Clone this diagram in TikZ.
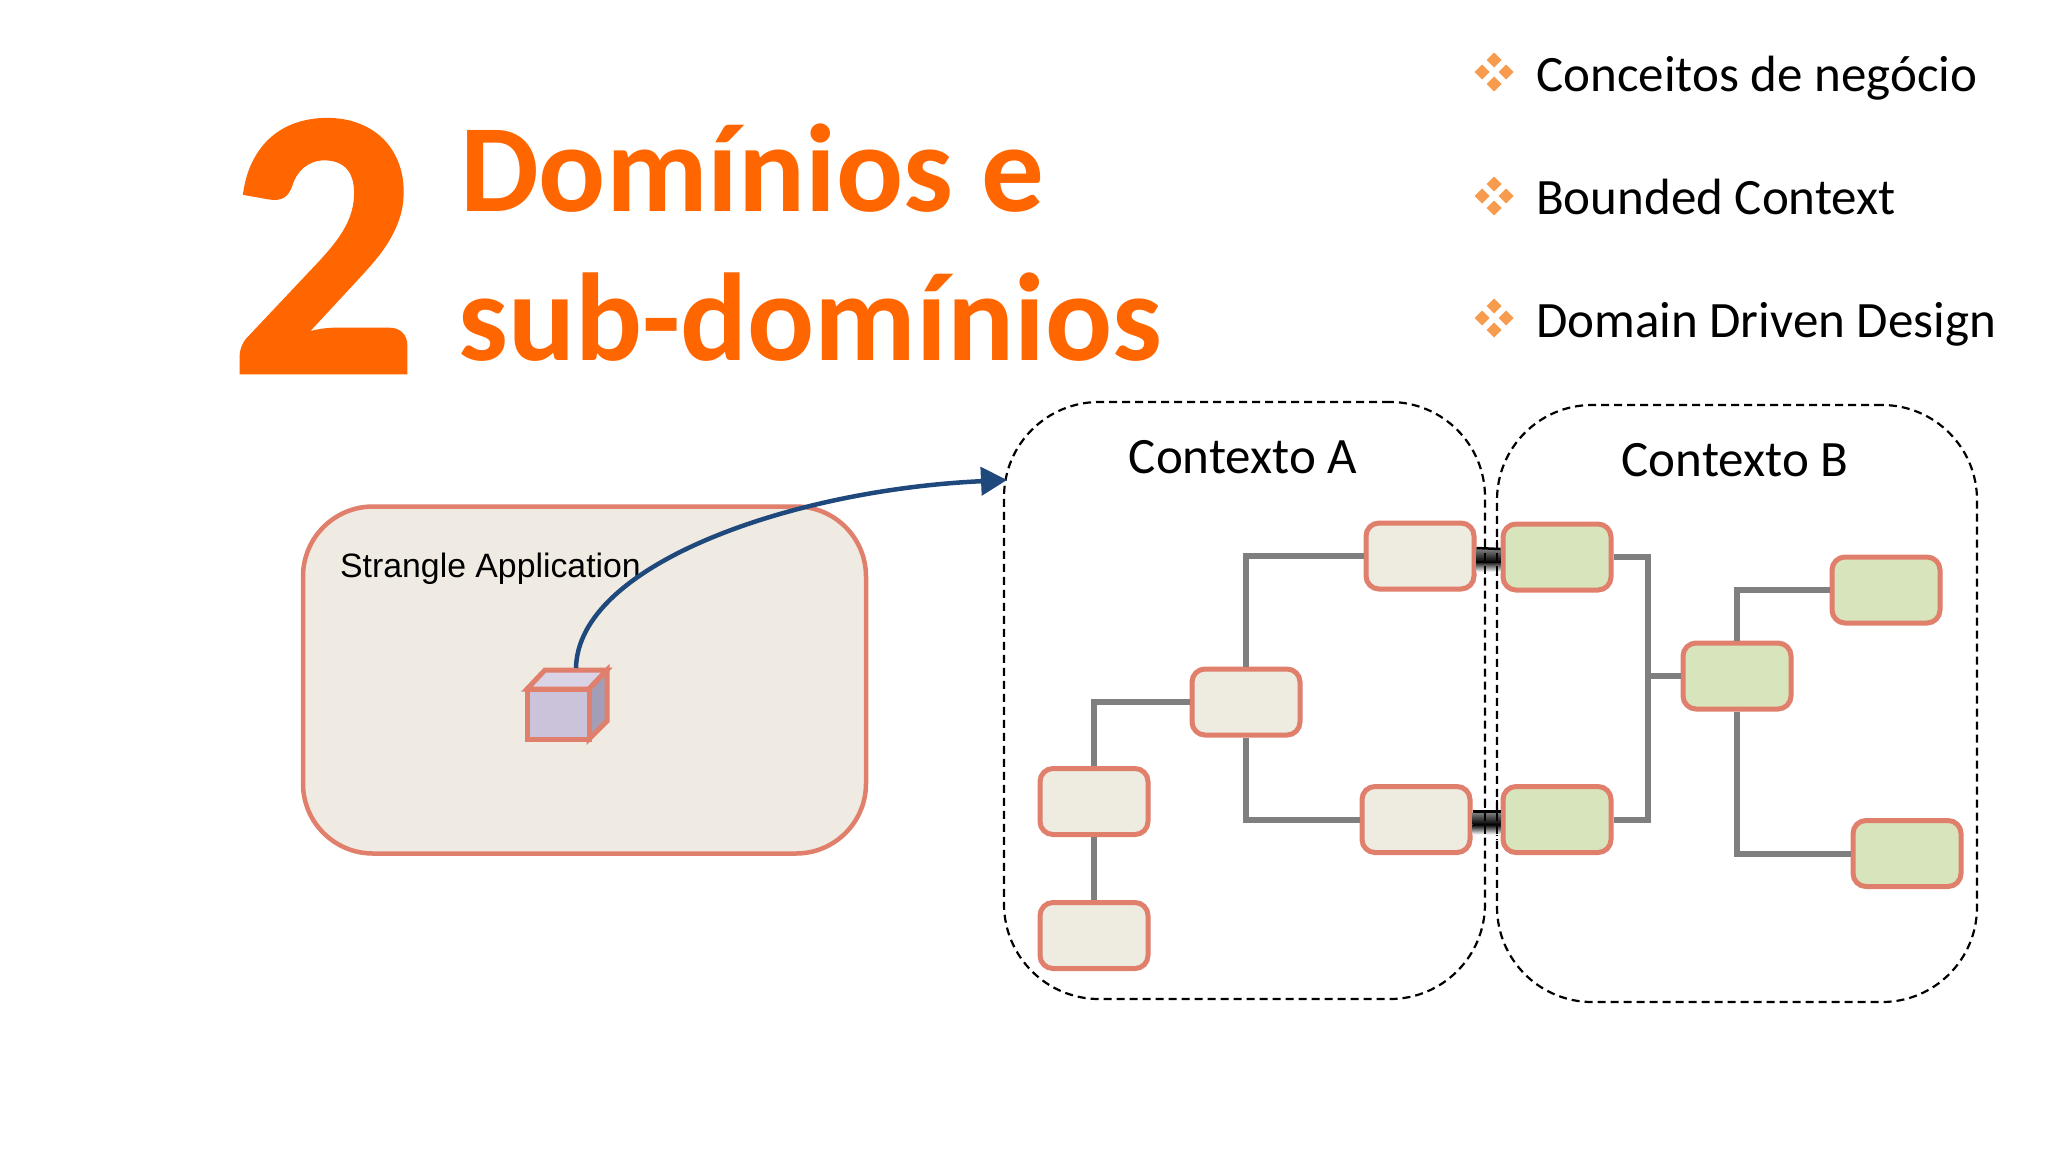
\documentclass[tikz,border=0pt]{standalone}
\usepackage{fontspec}
\setmainfont{Carlito}
\newfontfamily\arialfont{Liberation Sans}
\newfontfamily\numfont[FakeBold=1.2]{Carlito Bold}
\usetikzlibrary{arrows.meta,calc}
\definecolor{orangeT}{HTML}{FF6600}
\definecolor{bulletC}{HTML}{F79C4E}
\definecolor{strokeC}{HTML}{E07F6B}
\definecolor{creamC}{HTML}{EEEBE0}
\definecolor{appC}{HTML}{F0EBE2}
\definecolor{greenC}{HTML}{D8E4BC}
\definecolor{linkC}{HTML}{7F7F7F}
\definecolor{arrowC}{HTML}{1F497D}
\definecolor{cubeTopC}{HTML}{DAD2E5}
\definecolor{cubeSideC}{HTML}{A49DB8}
\definecolor{cubeFrontC}{HTML}{CBC3DA}
\tikzset{
  box/.style={draw=strokeC,line width=5pt,rounded corners=13pt,minimum width=108pt,minimum height=66pt,inner sep=0pt,outer sep=2.5pt},
  creambox/.style={box,fill=creamC},
  greenbox/.style={box,fill=greenC},
  ctx/.style={draw=black,line width=2.2pt,dash pattern=on 8pt off 5pt,rounded corners=95pt,inner sep=0pt},
  dashseg/.style={draw=black,line width=2.2pt,dash pattern=on 8pt off 5pt},
  link/.style={draw=linkC,line width=6pt,line join=miter},
  bullettext/.style={anchor=base west,inner sep=0pt,font=\fontsize{51}{53}\selectfont},
  titletext/.style={anchor=base west,inner sep=0pt,text=orangeT,font=\fontsize{125}{130}\selectfont\bfseries},
  ctxlabel/.style={anchor=center,inner sep=0pt,font=\fontsize{51}{53}\selectfont},
  gem/.style={fill=bulletC,draw=none},
  cubeface/.style={draw=strokeC,line width=5pt,line join=miter},
  bandline/.style={draw=black,line width=2.5pt}
}
\newcommand{\gems}[2]{%
  \foreach \dx/\dy in {0/-12,0/12,-12/0,12/0}{
    \fill[gem] (#1+\dx-7.5,#2+\dy) -- (#1+\dx,#2+\dy-7.5) -- (#1+\dx+7.5,#2+\dy) -- (#1+\dx,#2+\dy+7.5) -- cycle;
  }}
\newcommand{\band}[2]{%
  \shade[top color=black,bottom color=white] ($(#1.east)+(0,5)$) rectangle ($(#2.west)+(0,15)$);
  \shade[top color=black!50,bottom color=black] ($(#1.east)+(0,-7)$) rectangle ($(#2.west)+(0,5)$);
  \draw[bandline] ($(#1.east)+(0,-8)$) -- ($(#2.west)+(0,-8)$);}
\begin{document}
\begin{tikzpicture}[x=1pt,y=-1pt]
\path[use as bounding box,fill=white] (0,0) rectangle (2048,1152);
% title
\node[anchor=base west,inner sep=0pt,text=orangeT,xscale=.97,font=\numfont\fontsize{384}{384}\selectfont] (num) at (229,372) {2};
\node[titletext] (t1) at (460,211) {Domínios e};
\node[titletext] (t2) at (458,360) {sub-domínios};
% bullets
\gems{1494}{72}
\gems{1494}{196}
\gems{1494}{318}
\node[bullettext] (b1) at (1536,91) {Conceitos de negócio};
\node[bullettext] (b2) at (1536,214) {Bounded Context};
\node[bullettext] (b3) at (1536,337) {Domain Driven Design};
% application
\node[draw=strokeC,fill=appC,line width=4.5pt,rounded corners=70pt,minimum width=563pt,minimum height=347pt,inner sep=0pt] (app) at (584.5,680) {};
\node[anchor=base west,inner sep=0pt,font=\arialfont\fontsize{33.8}{36}\selectfont] (applabel) at (340,577) {Strangle Application};
% cube
\filldraw[cubeface,fill=cubeTopC] (527,689) -- (545,670) -- (607,670) -- (589,689) -- cycle;
\filldraw[cubeface,fill=cubeSideC] (589,689) -- (607,670) -- (607,721) -- (589,739) -- cycle;
\filldraw[cubeface,fill=cubeFrontC] (527,689) rectangle (589,739);
\coordinate (cubetop) at (576,668);
% contexts
\node[ctx,minimum width=481pt,minimum height=597pt] (ctxA) at (1244.5,700.5) {};
\node[ctx,minimum width=480pt,minimum height=597pt] (ctxB) at (1737,703.5) {};
\coordinate (ctxAin) at (1007,480);
\draw[arrowC,line width=4.5pt,-{Triangle[length=26pt,width=28pt]}] (cubetop) .. controls (578,565) and (790,490) .. (ctxAin);
\node[ctxlabel] (ca) at (1243,457) {Contexto A};
\node[ctxlabel] (cb) at (1735,460) {Contexto B};
% boxes
\node[creambox] (A1) at (1420,556) {};
\node[creambox] (A2) at (1416,819.5) {};
\node[creambox] (Am) at (1246,702) {};
\node[creambox] (Al1) at (1094,801.5) {};
\node[creambox] (Al2) at (1094,935.5) {};
\node[greenbox] (B1) at (1557,557) {};
\node[greenbox] (B2) at (1557,819.5) {};
\node[greenbox] (Bm) at (1737,676) {};
\node[greenbox] (Bt) at (1886,590) {};
\node[greenbox] (Bb) at (1907,853.5) {};
\coordinate (Bj) at (1648,676);
% links
\draw[link] (Am.north) -- (Am.north |- A1.west) -- (A1.west);
\draw[link] (Am.south) -- (Am.south |- A2.west) -- (A2.west);
\draw[link] (Am.west) -- (Al1.north |- Am.west) -- (Al1.north);
\draw[link] (Al1.south) -- (Al2.north);
\draw[link] (B1.east) -- (Bj |- B1.east) -- (Bj |- B2.east) -- (B2.east);
\draw[link] (Bj) -- (Bm.west);
\draw[link] (Bm.north) -- (Bm.north |- Bt.west) -- (Bt.west);
\draw[link] (Bm.south) -- (Bm.south |- Bb.west) -- (Bb.west);
\band{A1}{B1}
\band{A2}{B2}
\draw[dashseg] (1485,540) -- (1485,575);
\draw[dashseg] (1497,540) -- (1497,575);
\draw[dashseg] (1485,800) -- (1485,840);
\draw[dashseg] (1497,800) -- (1497,840);
\end{tikzpicture}
\end{document}
